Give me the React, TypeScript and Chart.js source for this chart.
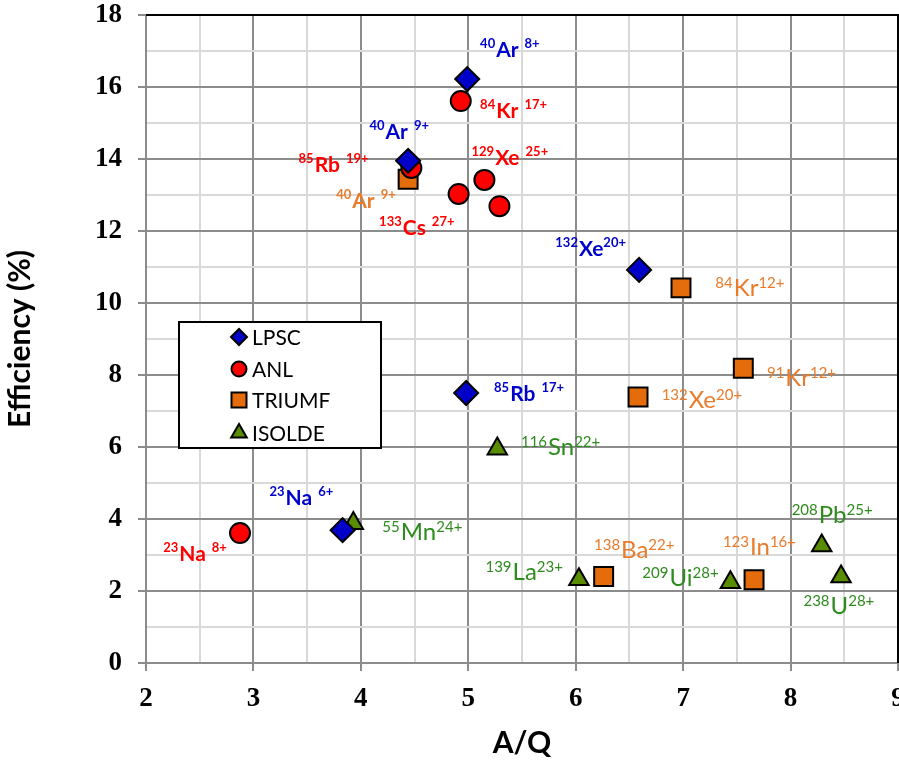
import React, { useEffect, useRef } from 'react';
import { Chart, registerables } from 'chart.js';
import { drawPoint } from 'chart.js/helpers';

Chart.register(...registerables);

// ---- data ----
const seriesNames = ['LPSC', 'ANL', 'TRIUMF', 'ISOLDE'];

const lpscX = [4.99, 4.44, 6.59, 4.98, 3.83];
const lpscY = [16.22, 13.95, 10.92, 7.5, 3.69];

const anlX = [4.93, 4.47, 5.15, 4.91, 5.29, 2.875];
const anlY = [15.61, 13.75, 13.42, 13.03, 12.69, 3.61];

const triumfX = [4.44, 6.98, 7.56, 6.58, 6.26, 7.66];
const triumfY = [13.44, 10.42, 8.19, 7.39, 2.4, 2.31];

const isoldeX = [5.27, 3.93, 6.03, 7.44, 8.29, 8.47];
const isoldeY = [5.95, 3.88, 2.32, 2.24, 3.26, 2.4];

// ion labels: mass number, element, charge, anchor (A/Q, efficiency), series, bold
const labelMass = ['40', '84', '40', '85', '129', '40', '133', '132', '84', '91', '85', '132', '116', '23', '23', '55', '139', '138', '123', '208', '209', '238'];
const labelElem = ['Ar', 'Kr', 'Ar', 'Rb', 'Xe', 'Ar', 'Cs', 'Xe', 'Kr', 'Kr', 'Rb', 'Xe', 'Sn', 'Na', 'Na', 'Mn', 'La', 'Ba', 'In', 'Pb', 'Ui', 'U'];
const labelCharge = [' 8+', ' 17+', ' 9+', ' 19+', ' 25+', ' 9+', ' 27+', '20+', '12+', '12+', ' 17+', '20+', '22+', ' 6+', ' 8+', '24+', '23+', '22+', '16+', '25+', '28+', '28+'];
const labelX = [5.11, 5.11, 4.08, 3.42, 5.03, 3.77, 4.17, 5.81, 7.3, 7.78, 5.24, 6.8, 5.49, 3.15, 2.16, 4.2, 5.16, 6.17, 7.37, 8.01, 6.62, 8.12];
const labelY = [16.83, 15.14, 14.56, 13.64, 13.83, 12.64, 11.89, 11.31, 10.19, 7.69, 7.28, 7.08, 5.78, 4.39, 2.83, 3.42, 2.31, 2.92, 3.0, 3.89, 2.14, 1.36];
const labelSeries = [0, 1, 0, 1, 1, 2, 1, 0, 2, 2, 0, 2, 3, 0, 1, 3, 3, 2, 2, 3, 3, 3];
const labelBold = [true, true, true, true, true, true, true, true, false, false, true, false, false, true, true, false, false, false, false, false, false, false];

const xTickMin = 2;
const xTickMax = 9;
const yTickMin = 0;
const yTickMax = 18;

// ---- styles ----
const markerFill = ['#0000C8', '#FF0000', '#E46C0A', '#5A8C00'];
const markerStyle = ['rectRot', 'circle', 'rect', 'triangle'];
const markerRadius = [12, 10, 13.4, 11.2];
const legendRadius = [8, 7.5, 10.6, 9];
const textColor = ['#0000CC', '#FF0000', '#E97B2C', '#2E8B1E'];

const FONT = 'Lato, "Open Sans", sans-serif';

const toPts = (xs: number[], ys: number[]) => xs.map((x, i) => ({ x, y: ys[i] }));

const labelPlugin = {
  id: 'ionLabels',
  afterDatasetsDraw(chart: any) {
    const { ctx } = chart;
    const xs = chart.scales.x;
    const ys = chart.scales.y;
    ctx.save();
    ctx.textAlign = 'left';
    ctx.textBaseline = 'alphabetic';
    for (let i = 0; i < labelMass.length; i++) {
      const bold = labelBold[i];
      const mainSize = bold ? 21 : 24;
      const supSize = bold ? 13 : 15;
      const rise = bold ? 9 : 8;
      const w = bold ? 'bold ' : '';
      let px = xs.getPixelForValue(labelX[i]);
      const py = ys.getPixelForValue(labelY[i]);
      ctx.fillStyle = textColor[labelSeries[i]];
      ctx.font = `${w}${supSize}px ${FONT}`;
      ctx.fillText(labelMass[i], px, py - rise);
      px += ctx.measureText(labelMass[i]).width + 1;
      ctx.font = `${w}${mainSize}px ${FONT}`;
      ctx.fillText(labelElem[i], px, py);
      px += ctx.measureText(labelElem[i]).width;
      let ch = labelCharge[i];
      if (ch.startsWith(' ')) {
        px += 6;
        ch = ch.trim();
      }
      ctx.font = `${w}${supSize}px ${FONT}`;
      ctx.fillText(ch, px, py - rise);
    }
    ctx.restore();
  },
};

const framePlugin = {
  id: 'frameAndLegend',
  afterDraw(chart: any) {
    const { ctx, chartArea } = chart;
    ctx.save();
    // top & right frame
    ctx.strokeStyle = '#000';
    ctx.lineWidth = 2;
    ctx.beginPath();
    ctx.moveTo(chartArea.left, chartArea.top);
    ctx.lineTo(chartArea.right, chartArea.top);
    ctx.lineTo(chartArea.right, chartArea.bottom);
    ctx.stroke();

    // legend box
    const left = chartArea.left + 33;
    const top = chartArea.top + 307;
    const w = 202;
    const h = 126;
    ctx.fillStyle = '#fff';
    ctx.fillRect(left, top, w, h);
    ctx.strokeStyle = '#000';
    ctx.lineWidth = 2;
    ctx.strokeRect(left, top, w, h);
    const rows = [15, 47, 78, 111];
    ctx.textAlign = 'left';
    ctx.textBaseline = 'middle';
    ctx.font = `21px ${FONT}`;
    chart.data.datasets.forEach((ds: any, i: number) => {
      const cy = top + rows[i];
      const cx = left + 60;
      ctx.fillStyle = ds.backgroundColor;
      ctx.strokeStyle = '#000';
      ctx.lineWidth = 2;
      drawPoint(ctx, { pointStyle: ds.pointStyle, rotation: 0, radius: legendRadius[i], borderWidth: 2 }, cx, cy);
      ctx.fillStyle = '#000';
      ctx.fillText(ds.label, left + 73, cy + 1);
    });
    ctx.restore();
  },
};

export default function App() {
  const ref = useRef<HTMLCanvasElement>(null);
  useEffect(() => {
    const canvas = ref.current!;
    const xs = [lpscX, anlX, triumfX, isoldeX];
    const ysArr = [lpscY, anlY, triumfY, isoldeY];
    const datasets = seriesNames.map((name, i) => ({
      label: name,
      data: toPts(xs[i], ysArr[i]),
      pointStyle: markerStyle[i],
      pointRadius: markerRadius[i],
      backgroundColor: markerFill[i],
      borderColor: '#000',
      borderWidth: 2,
    }));
    const major = '#8C8C8C';
    const minor = '#D9D9D9';
    const chart = new Chart(canvas, {
      type: 'scatter',
      data: { datasets } as any,
      options: {
        responsive: false,
        animation: false,
        layout: { padding: { top: 15, right: 1, left: 0, bottom: 0 }, autoPadding: false },
        plugins: { legend: { display: false }, tooltip: { enabled: false } },
        scales: {
          x: {
            type: 'linear',
            min: xTickMin,
            max: xTickMax,
            ticks: {
              stepSize: 0.5,
              autoSkip: false,
              maxRotation: 0,
              padding: 12,
              color: '#000',
              font: { family: '"Liberation Serif", "Times New Roman", serif', weight: 'bold', size: 27 },
              callback: (v: any) => (Number.isInteger(v) ? String(v) : ''),
            },
            grid: {
              color: (c: any) => (c.tick && Number.isInteger(c.tick.value) ? major : minor),
              tickColor: (c: any) => (c.tick && Number.isInteger(c.tick.value) ? major : 'rgba(0,0,0,0)'),
              lineWidth: 2,
              tickLength: 8,
            },
            border: { color: major, width: 2 },
            title: {
              display: true,
              text: 'A/Q',
              color: '#000',
              font: { family: FONT, weight: 'bold', size: 30 },
              padding: { top: 0, bottom: 3 },
            },
            afterFit: (s: any) => {
              s.height = 101;
              s.paddingLeft = 0;
              s.paddingRight = 0;
            },
          },
          y: {
            type: 'linear',
            min: yTickMin,
            max: yTickMax,
            ticks: {
              stepSize: 1,
              autoSkip: false,
              padding: 16,
              color: '#000',
              font: { family: '"Liberation Serif", "Times New Roman", serif', weight: 'bold', size: 27 },
              callback: (v: any) => (Number(v) % 2 === 0 ? String(v) : ''),
            },
            grid: {
              color: (c: any) => (c.tick && c.tick.value % 2 === 0 ? major : minor),
              tickColor: (c: any) => (c.tick && c.tick.value % 2 === 0 ? major : 'rgba(0,0,0,0)'),
              lineWidth: 2,
              tickLength: 8,
            },
            border: { color: major, width: 2 },
            title: {
              display: true,
              text: 'Efficiency (%)',
              color: '#000',
              font: { family: FONT, weight: 'bold', size: 30 },
              padding: { top: 2, bottom: 0 },
            },
            afterFit: (s: any) => {
              s.width = 146;
              s.paddingTop = 0;
              s.paddingBottom = 0;
            },
          },
        },
      } as any,
      plugins: [labelPlugin, framePlugin],
    });
    return () => chart.destroy();
  }, []);
  return (
    <canvas
      ref={ref}
      width={899}
      height={764}
      style={{ position: 'absolute', left: 0, top: 0, display: 'block', width: 899, height: 764 }}
    />
  );
}
